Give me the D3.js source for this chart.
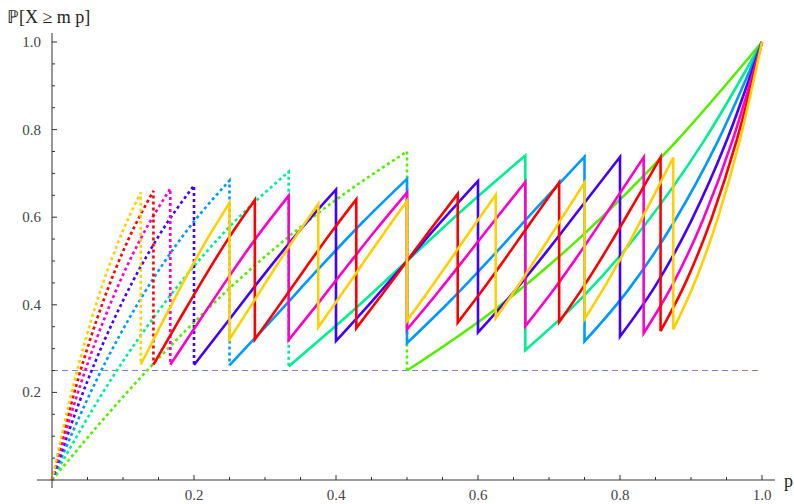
<!DOCTYPE html>
<html><head><meta charset="utf-8">
<script src="https://cdn.jsdelivr.net/npm/d3@7"></script>
<style>body{margin:0;background:#fff}svg{display:block}</style>
</head><body>
<svg id="c" width="794" height="504"></svg>
<script>
// Values of P[X >= m p] for m = 2..8, sampled at 5 equally spaced p within each interval [k/m,(k+1)/m]
const orders = [2, 3, 4, 5, 6, 7, 8];
const m2 = [[0,0.234375,0.4375,0.609375,0.75],[0.25,0.390625,0.5625,0.765625,1]];
const m3 = [[0,0.22975,0.4213,0.578125,0.7037],[0.2593,0.37616,0.5,0.62384,0.7407],[0.2963,0.421875,0.5787,0.77025,1]];
const m4 = [[0,0.22752,0.413818,0.564194,0.683594],[0.261719,0.370407,0.481201,0.588425,0.6875],[0.3125,0.411575,0.518799,0.629593,0.738281],[0.316406,0.435806,0.586182,0.77248,1]];
const m5 = [[0,0.226219,0.40951,0.556295,0.67232],[0.26272,0.367187,0.47178,0.571585,0.66304],[0.31744,0.406873,0.5,0.593127,0.68256],[0.33696,0.428415,0.52822,0.632813,0.73728],[0.32768,0.443705,0.59049,0.773781,1]];
const m6 = [[0,0.22534,0.40671,0.551205,0.665102],[0.263224,0.365113,0.466064,0.56164,0.648835],[0.319617,0.403953,0.490205,0.575253,0.65625],[0.34375,0.424747,0.509795,0.596047,0.680383],[0.351165,0.43836,0.533936,0.634887,0.736776],[0.334898,0.448795,0.59329,0.77466,1]];
const m7 = [[0,0.224753,0.404738,0.547653,0.660084],[0.263515,0.363652,0.462213,0.555053,0.639516],[0.320772,0.401936,0.484085,0.564456,0.640656],[0.346901,0.422274,0.5,0.577726,0.653099],[0.359344,0.435544,0.515915,0.598064,0.679228],[0.360484,0.444947,0.537787,0.636348,0.736485],[0.339916,0.452347,0.595262,0.775247,1]];
const m8 = [[0,0.224303,0.403282,0.545028,0.656391],[0.263695,0.362587,0.459436,0.550359,0.632919],[0.321456,0.40046,0.479872,0.557171,0.630263],[0.348632,0.420444,0.493755,0.566478,0.636719],[0.363281,0.433522,0.506245,0.579556,0.651368],[0.369737,0.442829,0.520128,0.59954,0.678544],[0.367081,0.449641,0.540564,0.637413,0.736305],[0.343609,0.454972,0.596718,0.775697,1]];
const seriesValues = [m2, m3, m4, m5, m6, m7, m8];
const colors = ["#55ee00", "#00f090", "#0099ff", "#4400ff", "#ff00cc", "#ff0000", "#ffd000"];
const refLevel = 0.25;
const xTicks = [0.2, 0.4, 0.6, 0.8, 1.0];
const yTicks = [0.2, 0.4, 0.6, 0.8, 1.0];
const xLabel = "p";
const yLabel = "\u2119[X \u2265 m p]";

const svg = d3.select("#c");
const x = d3.scaleLinear().domain([0, 1]).range([52, 762]);
const y = d3.scaleLinear().domain([0, 1]).range([480, 42]);
const font = "'Liberation Serif','Times New Roman',serif";

// reference dashed line
svg.append("line")
  .attr("x1", x(0)).attr("x2", x(1)).attr("y1", y(refLevel)).attr("y2", y(refLevel))
  .attr("stroke", "#7f7fd6").attr("stroke-width", 1).attr("stroke-dasharray", "6,4");

const line = d3.line().x(d => x(d[0])).y(d => y(d[1])).curve(d3.curveMonotoneX);

orders.forEach((m, i) => {
  const segs = seriesValues[i].map((vals, k) => vals.map((v, j) => [(k + j / 4) / m, v]));
  // first piece (dotted) including the first jump
  const first = line(segs[0]) + "L" + x(segs[1][0][0]) + "," + y(segs[1][0][1]);
  svg.append("path").attr("d", first).attr("fill", "none")
    .attr("stroke", colors[i]).attr("stroke-width", 2.6).attr("stroke-dasharray", "3,3");
  // remaining pieces (solid), jumps drawn as vertical lines
  let d = "";
  segs.slice(1).forEach((s, k) => {
    const p = line(s);
    d += (k === 0 ? p : "L" + p.slice(1));
  });
  svg.append("path").attr("d", d).attr("fill", "none")
    .attr("stroke", colors[i]).attr("stroke-width", 2.6).attr("stroke-linejoin", "miter");
});

// axes
const axisColor = "#333";
svg.append("line").attr("x1", 37).attr("x2", 775).attr("y1", y(0)).attr("y2", y(0)).attr("stroke", axisColor).attr("stroke-width", 1);
svg.append("line").attr("x1", x(0)).attr("x2", x(0)).attr("y1", 33).attr("y2", 488).attr("stroke", axisColor).attr("stroke-width", 1);

const minor = d3.range(1, 20).map(v => v * 0.05);
const isMajor = d => Math.abs(d * 5 - Math.round(d * 5)) < 1e-6;
// x ticks
svg.selectAll(".xm").data(minor).enter().append("line")
  .attr("x1", d => x(d)).attr("x2", d => x(d))
  .attr("y1", y(0)).attr("y2", d => y(0) - (isMajor(d) ? 5 : 3))
  .attr("stroke", axisColor).attr("stroke-width", 1);
svg.append("line").attr("x1", x(1)).attr("x2", x(1)).attr("y1", y(0)).attr("y2", y(0) - 5).attr("stroke", axisColor);
svg.selectAll(".xl").data(xTicks).enter().append("text")
  .attr("x", d => x(d)).attr("y", 500).attr("text-anchor", "middle")
  .attr("font-family", font).attr("font-size", 15).attr("fill", "#444")
  .text(d => d3.format(".1f")(d));
// y ticks
svg.selectAll(".ym").data(minor).enter().append("line")
  .attr("y1", d => y(d)).attr("y2", d => y(d))
  .attr("x1", x(0)).attr("x2", d => x(0) + (isMajor(d) ? 5 : 3))
  .attr("stroke", axisColor).attr("stroke-width", 1);
svg.append("line").attr("y1", y(1)).attr("y2", y(1)).attr("x1", x(0)).attr("x2", x(0) + 5).attr("stroke", axisColor);
svg.selectAll(".yl").data(yTicks).enter().append("text")
  .attr("x", 41).attr("y", d => y(d) + 5).attr("text-anchor", "end")
  .attr("font-family", font).attr("font-size", 15).attr("fill", "#444")
  .text(d => d3.format(".1f")(d));

svg.append("text").attr("x", 7).attr("y", 23).attr("font-family", font).attr("font-size", 18).attr("fill", "#222").text(yLabel);
svg.append("text").attr("x", 784).attr("y", 487).attr("font-family", font).attr("font-size", 18).attr("fill", "#222").text(xLabel);
</script>
</body></html>
